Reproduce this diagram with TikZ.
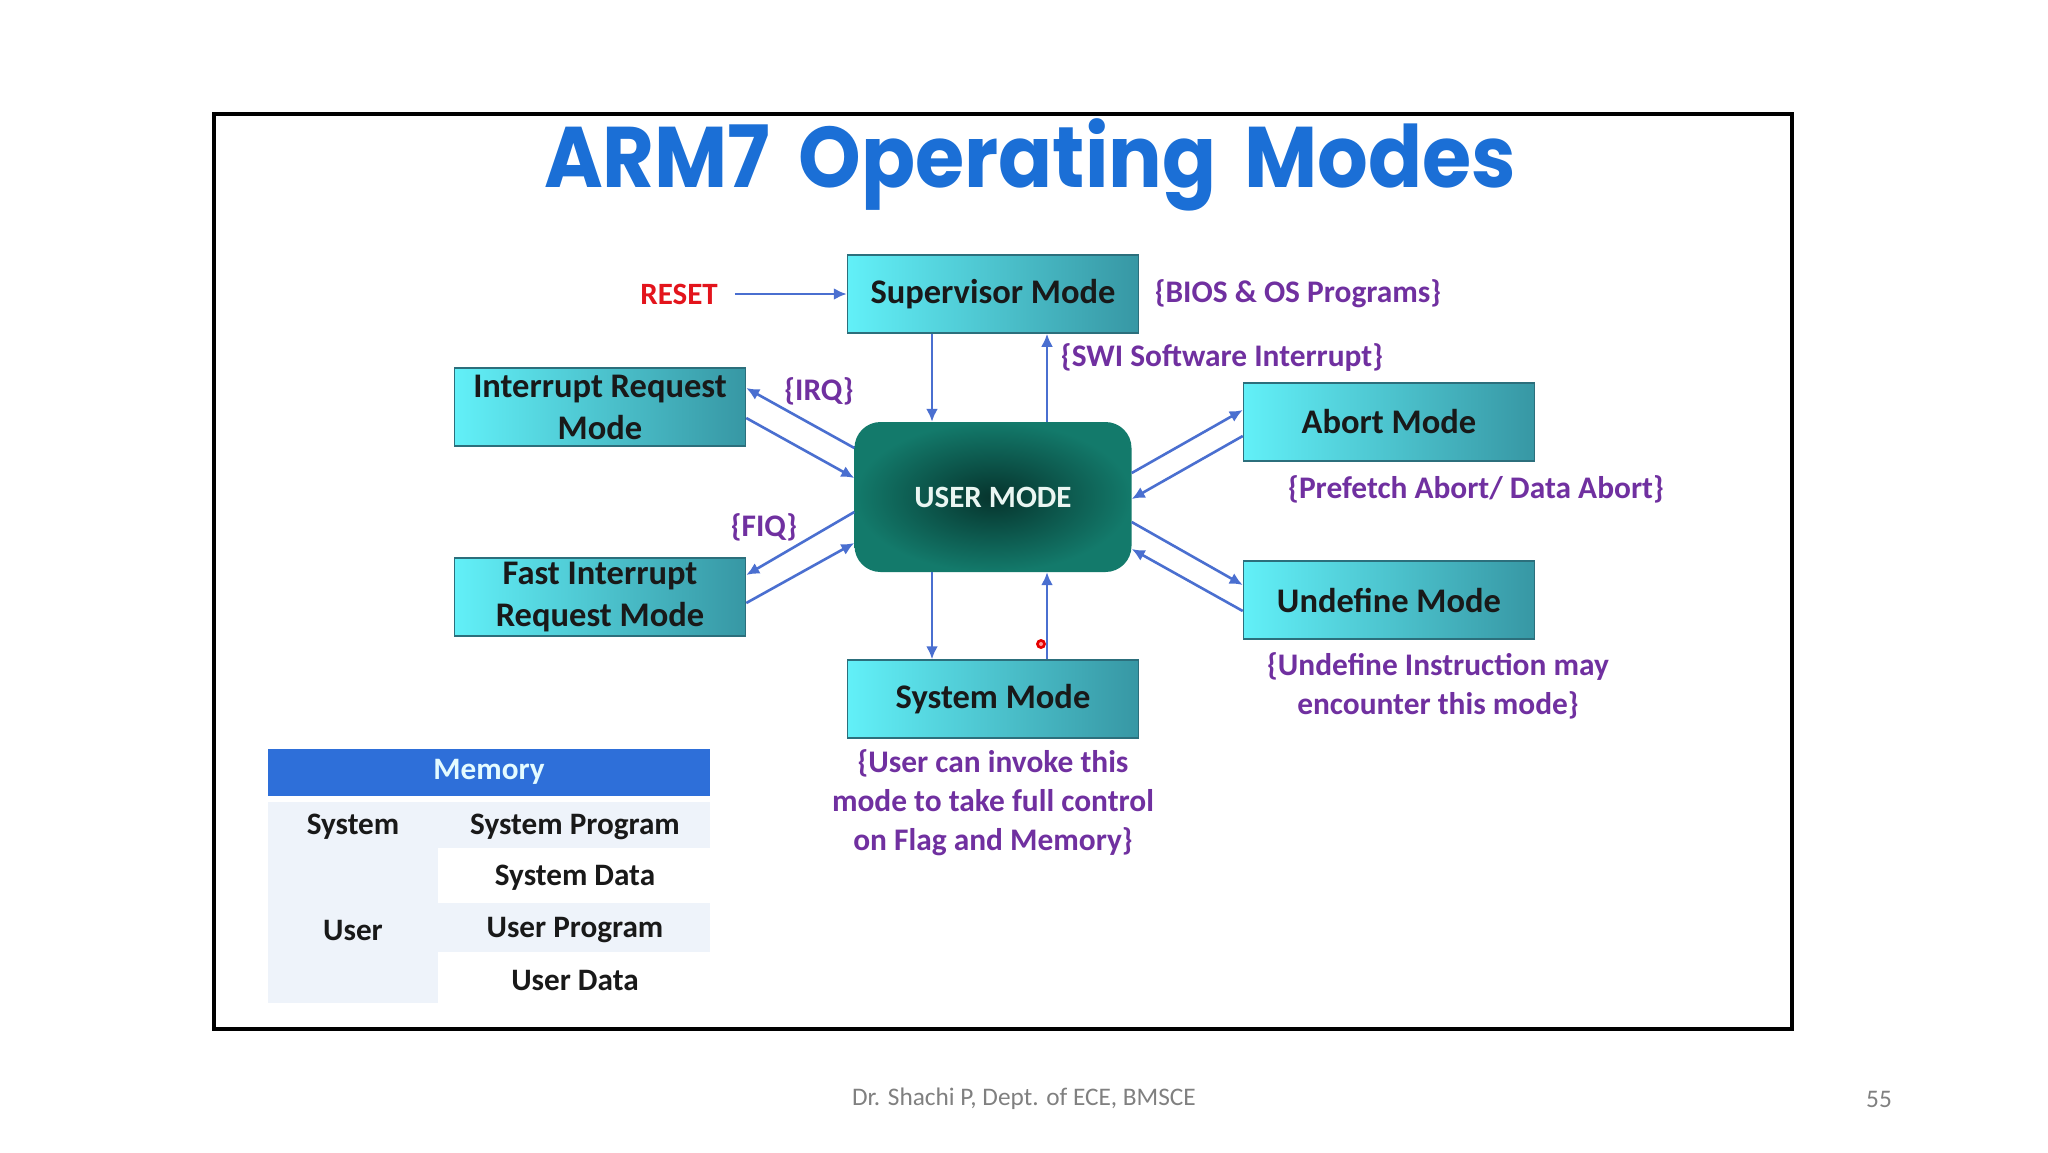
\documentclass[tikz,border=0pt]{standalone}
\usepackage{fontspec}
\setmainfont{Carlito}
\newfontfamily\titlefont{Poppins Bold}
\usetikzlibrary{arrows.meta,shadings}
\definecolor{titleblue}{HTML}{1B6FD6}
\definecolor{purp}{HTML}{7030A0}
\definecolor{resetred}{HTML}{E3141C}
\definecolor{arrblue}{HTML}{4A6FD0}
\definecolor{cyanL}{HTML}{62F0F8}
\definecolor{tealR}{HTML}{3797A4}
\definecolor{boxedge}{HTML}{2C6F7C}
\definecolor{userIn}{HTML}{06342D}
\definecolor{userOut}{HTML}{137A6B}
\definecolor{usertext}{HTML}{EAF6F2}
\definecolor{memblue}{HTML}{2E6FD9}
\definecolor{memtext}{HTML}{E4FBFF}
\definecolor{cellL}{HTML}{EEF3FA}
\definecolor{footgray}{HTML}{808080}
\tikzset{
  modebox/.style={draw=boxedge, line width=1.5pt, left color=cyanL, right color=tealR,
    minimum width=291pt, minimum height=78pt, inner sep=0pt, align=center,
    font=\bfseries\fontsize{34.5}{42}\selectfont, text=black!90},
  usermode/.style={rounded corners=26pt, inner color=userIn, outer color=userOut,
    minimum width=277pt, minimum height=150pt, inner sep=0pt,
    font=\bfseries\fontsize{31}{36}\selectfont, text=usertext},
  note/.style={font=\bfseries\fontsize{31.4}{39}\selectfont, text=purp, align=center, inner sep=0pt},
  arr/.style={draw=arrblue, line width=2.6pt, -{Latex[length=13pt,width=12pt]}},
  memtxt/.style={font=\bfseries\fontsize{31.2}{36}\selectfont, text=black!90, inner sep=0pt},
}
\begin{document}
\begin{tikzpicture}[x=1pt,y=-1pt]
\useasboundingbox[fill=white] (0,0) rectangle (2048,1152);
% frame
\draw[line width=4pt] (214,114) rectangle (1792,1029);
% title
\node[text=titleblue, font=\titlefont\fontsize{86}{96}\selectfont, inner sep=0pt, anchor=base] (title) at (1030,187) {\scalebox{0.927}[1]{ARM7\hspace{0.35em}Operating\hspace{0.35em}Modes}};
% boxes
\node[modebox] (sup) at (993,294) {Supervisor Mode};
\node[modebox] (irq) at (600,407) {Interrupt Request\\Mode};
\node[modebox] (fiq) at (600,597) {Fast Interrupt\\Request Mode};
\node[modebox] (abt) at (1389,422) {Abort Mode};
\node[modebox] (und) at (1389,600) {Undefine Mode};
\node[modebox] (sys) at (993,699) {System Mode};
\node[usermode] (user) at (993,497) {USER MODE};
% labels
\node[font=\bfseries\fontsize{31}{36}\selectfont, text=resetred, inner sep=0pt] (reset) at (679,294) {RESET};
\node[note] (bios) at (1298,294) {\{BIOS \& OS Programs\}};
\node[note] (swi) at (1222,357) {\{SWI Software Interrupt\}};
\node[note] (irql) at (819,391) {\{IRQ\}};
\node[note] (fiql) at (764,527) {\{FIQ\}};
\node[note] (abtl) at (1476,489) {\{Prefetch Abort/ Data Abort\}};
\node[note] (undl) at (1438,686) {\{Undefine Instruction may\\encounter this mode\}};
\node[note] (sysl) at (993,803) {\{User can invoke this\\mode to take full control\\on Flag and Memory\}};
% arrows
\draw[arr] ([xshift=17pt]reset.east) -- (sup.west);
\draw[arr] ([xshift=-61pt]sup.south) -- ([xshift=-61pt]user.north);
\draw[arr] ([xshift=54pt]user.north) -- ([xshift=54pt]sup.south);
\draw[arr] ([xshift=-61pt]user.south) -- ([xshift=-61pt]sys.north);
\draw[arr] ([xshift=54pt]sys.north) -- ([xshift=54pt]user.south);
\draw[arr] ([yshift=49pt]user.west) -- ([yshift=19pt]irq.east);
\draw[arr] ([yshift=-11pt]irq.east) -- ([yshift=19pt]user.west);
\draw[arr] ([yshift=-15pt]user.west) -- ([yshift=22pt]fiq.east);
\draw[arr] ([yshift=-6pt]fiq.east) -- ([yshift=-46pt]user.west);
\draw[arr] ([yshift=24pt]user.east) -- ([yshift=12pt]abt.west);
\draw[arr] ([yshift=-14pt]abt.west) -- ([yshift=-2pt]user.east);
\draw[arr] ([yshift=-25pt]user.east) -- ([yshift=15pt]und.west);
\draw[arr] ([yshift=-11pt]und.west) -- ([yshift=-52pt]user.east);
% laser pointer dot
\fill[red!90!black] (1041,644) circle (5pt);
\fill[red!40] (1041,644) circle (2pt);
% memory table
\fill[cellL] (268,802) rectangle (438,1003);
\fill[cellL] (438,802) rectangle (710,848);
\fill[cellL] (438,903) rectangle (710,952);
\node[fill=memblue, minimum width=442pt, minimum height=47pt, inner sep=0pt,
  font=\bfseries\fontsize{31.2}{36}\selectfont, text=memtext] (mem) at (489,772) {\raisebox{-3pt}{Memory}};
\node[memtxt] (msys) at (353,827) {System};
\node[memtxt] (msp) at (575,827) {System Program};
\node[memtxt] (msd) at (575,878) {System Data};
\node[memtxt] (musr) at (353,930) {User};
\node[memtxt] (mup) at (575,930) {User Program};
\node[memtxt] (mud) at (575,980) {User Data};
% footer
\node[font=\fontsize{25.3}{30}\selectfont, text=footgray, inner sep=0pt] (foot) at (1024,1099) {Dr. Shachi P, Dept. of ECE, BMSCE};
\node[font=\fontsize{25.3}{30}\selectfont, text=footgray, inner sep=0pt] (page) at (1879,1099) {55};
\end{tikzpicture}
\end{document}
